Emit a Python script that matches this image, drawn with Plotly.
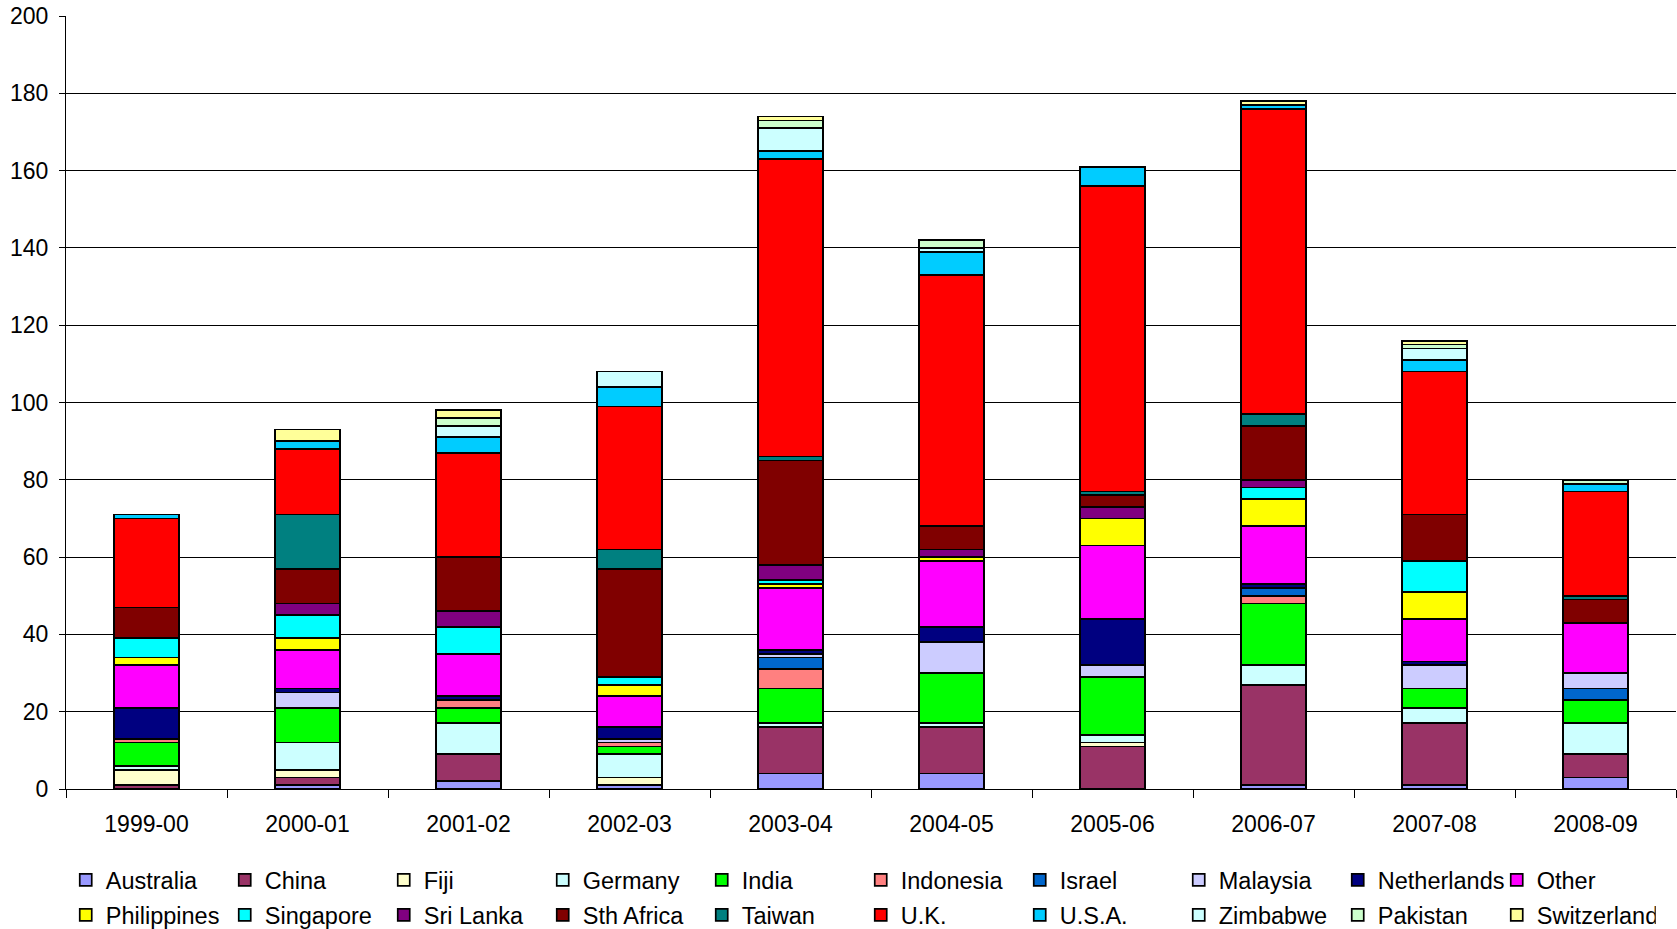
import plotly.graph_objects as go

years = ["1999-00", "2000-01", "2001-02", "2002-03", "2003-04",
         "2004-05", "2005-06", "2006-07", "2007-08", "2008-09"]

australia   = [0, 1, 2, 1, 4, 4, 0, 1, 1, 3]
china       = [1, 2, 7, 0, 12, 12, 11, 26, 16, 6]
fiji        = [4, 2, 0, 2, 0, 0, 1, 0, 0, 0]
germany     = [1, 7, 8, 6, 1, 1, 2, 5, 4, 8]
india       = [6, 9, 4, 2, 9, 13, 15, 16, 5, 6]
indonesia   = [1, 0, 2, 1, 5, 0, 0, 2, 0, 0]
israel      = [0, 0, 0, 0, 3, 0, 0, 2, 0, 3]
malaysia    = [0, 4, 0, 1, 1, 8, 3, 0, 6, 4]
netherlands = [8, 1, 1, 3, 1, 4, 12, 1, 1, 0]
other       = [11, 10, 11, 8, 16, 17, 19, 15, 11, 13]
philippines = [2, 3, 0, 3, 1, 1, 7, 7, 7, 0]
singapore   = [5, 6, 7, 2, 1, 0, 0, 3, 8, 0]
sri_lanka   = [0, 3, 4, 0, 4, 2, 3, 2, 0, 0]
sth_africa  = [8, 9, 14, 28, 27, 6, 3, 14, 12, 6]
taiwan      = [0, 14, 0, 5, 1, 0, 1, 3, 0, 1]
uk          = [23, 17, 27, 37, 77, 65, 79, 79, 37, 27]
usa         = [1, 2, 4, 5, 2, 6, 5, 1, 3, 2]
zimbabwe    = [0, 0, 3, 4, 6, 1, 0, 0, 3, 0]
pakistan    = [0, 0, 2, 0, 2, 2, 0, 0, 1, 1]
switzerland = [0, 3, 2, 0, 1, 0, 0, 1, 1, 0]

series = [
    ("Australia", australia, "#9999FF"),
    ("China", china, "#993366"),
    ("Fiji", fiji, "#FFFFCC"),
    ("Germany", germany, "#CCFFFF"),
    ("India", india, "#00FF00"),
    ("Indonesia", indonesia, "#FF8080"),
    ("Israel", israel, "#0066CC"),
    ("Malaysia", malaysia, "#CCCCFF"),
    ("Netherlands", netherlands, "#000080"),
    ("Other", other, "#FF00FF"),
    ("Philippines", philippines, "#FFFF00"),
    ("Singapore", singapore, "#00FFFF"),
    ("Sri Lanka", sri_lanka, "#800080"),
    ("Sth Africa", sth_africa, "#800000"),
    ("Taiwan", taiwan, "#008080"),
    ("U.K.", uk, "#FF0000"),
    ("U.S.A.", usa, "#00CCFF"),
    ("Zimbabwe", zimbabwe, "#CCFFFF"),
    ("Pakistan", pakistan, "#CCFFCC"),
    ("Switzerland", switzerland, "#FFFF99"),
]

FONT = "Arial, Liberation Sans, sans-serif"

fig = go.Figure()
for i, (name, vals, color) in enumerate(series):
    fig.add_trace(go.Bar(
        x=years,
        y=[v if v else None for v in vals],
        name=name,
        marker=dict(color=color, line=dict(color="black", width=1.7)),
        legend="legend" if i < 10 else "legend2",
    ))

legend_common = dict(
    orientation="h",
    xref="container", yref="container",
    xanchor="left", yanchor="middle",
    font=dict(family=FONT, size=23.5, color="black"),
    entrywidth=114, entrywidthmode="pixels",
    itemwidth=30, tracegroupgap=0,
    bgcolor="rgba(0,0,0,0)",
    traceorder="normal",
)

fig.update_layout(
    width=1677, height=929,
    barmode="stack", bargap=0.6,
    plot_bgcolor="white", paper_bgcolor="white",
    margin=dict(l=66, r=1, t=16, b=140),
    font=dict(family=FONT, size=23, color="black"),
    legend=dict(x=0.0392, y=1 - 880 / 929, **legend_common),
    legend2=dict(x=0.0392, y=1 - 915 / 929, **legend_common),
)
fig.update_xaxes(
    type="category", automargin=False,
    showline=True, linecolor="black", linewidth=1,
    ticks="outside", tickson="boundaries", ticklen=8, tickcolor="black",
    tickfont=dict(family=FONT, size=23, color="black"),
    ticklabelstandoff=14,
)
fig.update_yaxes(
    range=[0, 200], dtick=20, automargin=False,
    showline=True, linecolor="black", linewidth=1,
    showgrid=True, gridcolor="black", gridwidth=1,
    ticks="outside", ticklen=6, tickcolor="black",
    tickfont=dict(family=FONT, size=23, color="black"),
    ticklabelstandoff=6,
    zeroline=False,
)

fig.write_html(
    "out.html",
    config={"displayModeBar": False},
    post_script="document.body.style.margin='0px';document.body.style.overflow='hidden';",
)
